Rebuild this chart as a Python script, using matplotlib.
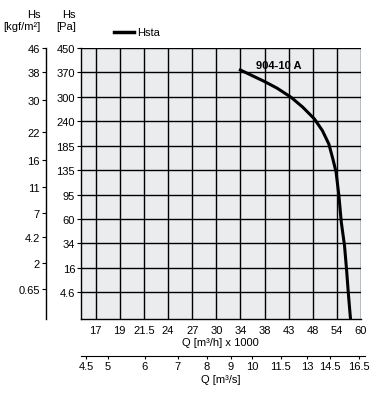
import numpy as np
import matplotlib
matplotlib.use("Agg")
import matplotlib.pyplot as plt

plt.rcParams['font.family'] = ['Liberation Sans Narrow', 'Liberation Sans', 'DejaVu Sans']
plt.rcParams['font.size'] = 8

# axis tick values (the chart uses unevenly spaced ticks on an even grid)
q_ticks = [17, 19, 21.5, 24, 27, 30, 34, 38, 43, 48, 54, 60]          # m3/h x 1000
pa_ticks = [4.6, 16, 34, 60, 95, 135, 185, 240, 300, 370, 450]         # Pa
kgf_ticks = [0.65, 2, 4.2, 7, 11, 16, 22, 30, 38, 46]                  # kgf/m2
qs_ticks = [4.5, 5, 6, 7, 8, 9, 10, 11.5, 13, 14.5, 16.5]              # m3/s

# curve 904-10 A
q_curve = [34.0, 38.0, 40.6, 43.5, 45.9, 48.4, 50.4, 52.0, 53.0, 53.8,
           54.5, 55.1, 55.9, 56.4, 56.9, 57.4]
pa_curve = [378, 344, 325, 299, 275, 246, 219, 189, 158, 132,
            93.6, 56.6, 32.4, 15.4, 3.0, -8.0]


def grid_scale(ticks):
    t = np.asarray(ticks, float)
    i = np.arange(len(t), dtype=float)

    def fwd(v):
        v = np.asarray(v, float)
        out = np.interp(v, t, i)
        out = np.where(v < t[0], (v - t[0]) / (t[1] - t[0]), out)
        out = np.where(v > t[-1], i[-1] + (v - t[-1]) / (t[-1] - t[-2]), out)
        return out

    def inv(p):
        p = np.asarray(p, float)
        out = np.interp(p, i, t)
        out = np.where(p < 0, t[0] + p * (t[1] - t[0]), out)
        out = np.where(p > i[-1], t[-1] + (p - i[-1]) * (t[-1] - t[-2]), out)
        return out
    return fwd, inv


qf = grid_scale(q_ticks)
pf = grid_scale(pa_ticks)
xlim = (float(qf[1](-0.62)), 60)
ylim = (float(pf[1](-1.09)), 450)

fig = plt.figure(figsize=(3.86, 4.06), dpi=100)
rect = [80.7/386, 86/406, 280.3/386, 271/406]
ax = fig.add_axes(rect)
ax.set_facecolor('#ebeced')
ax.set_xscale('function', functions=qf)
ax.set_yscale('function', functions=pf)
ax.set_xlim(*xlim)
ax.set_ylim(*ylim)
ax.set_xticks(q_ticks)
ax.set_xticklabels([f"{v:g}" for v in q_ticks])
ax.set_yticks(pa_ticks)
ax.set_yticklabels([f"{v:g}" for v in pa_ticks])
ax.minorticks_off()
ax.grid(True, color='black', linewidth=1.0)
ax.tick_params(axis='x', length=0, pad=4)
ax.tick_params(axis='y', length=3, width=0.8, pad=1)
for s in ['top', 'right']:
    ax.spines[s].set_visible(False)
ax.spines['left'].set_linewidth(1.0)
ax.spines['bottom'].set_linewidth(1.0)
ax.set_xlabel("Q [m³/h] x 1000", labelpad=2)

ax.plot(q_curve, pa_curve, color='black', linewidth=2.2, solid_joinstyle='round')
ax.text(40.9, 393, "904-10 A", ha='center', va='center', fontweight='bold', fontsize=8)

# kgf/m2 axis
kax = fig.add_axes(rect)
kax.patch.set_visible(False)
kax.set_yscale('function', functions=pf)
kax.set_ylim(*ylim)
kax.set_xticks([])
for s in ['top', 'right', 'bottom']:
    kax.spines[s].set_visible(False)
kax.spines['left'].set_position(('outward', 25.3))
kax.spines['left'].set_linewidth(1.0)
kax.set_yticks([k * 9.80665 for k in kgf_ticks])
kax.set_yticklabels([f"{k:g}" for k in kgf_ticks])
kax.minorticks_off()
kax.tick_params(axis='y', length=3, width=0.8, pad=1)

# m3/s axis
sax = fig.add_axes(rect)
sax.patch.set_visible(False)
sax.set_xscale('function', functions=qf)
sax.set_xlim(*xlim)
sax.set_yticks([])
for s in ['top', 'right', 'left']:
    sax.spines[s].set_visible(False)
sax.spines['bottom'].set_position(('outward', 26.4))
sax.spines['bottom'].set_bounds(xlim[0], 60.9)
sax.set_xticks([v * 3.6 for v in qs_ticks])
sax.set_xticklabels([f"{v:g}" for v in qs_ticks])
sax.minorticks_off()
sax.tick_params(axis='x', length=2, width=0.8, pad=2)
sax.set_xlabel("Q [m³/s]", labelpad=2)

# headers and legend
fig.text(41/386, 1 - 15/406, "Hs", ha='right', va='center')
fig.text(41/386, 1 - 27/406, "[kgf/m²]", ha='right', va='center')
fig.text(76/386, 1 - 15/406, "Hs", ha='right', va='center')
fig.text(76/386, 1 - 27/406, "[Pa]", ha='right', va='center')
fig.add_artist(plt.Line2D([114/386, 134/386], [1 - 33/406, 1 - 33/406], color='black', linewidth=2.5))
fig.text(137/386, 1 - 33/406, "Hsta", ha='left', va='center')

fig.savefig("out.png", dpi=100)
